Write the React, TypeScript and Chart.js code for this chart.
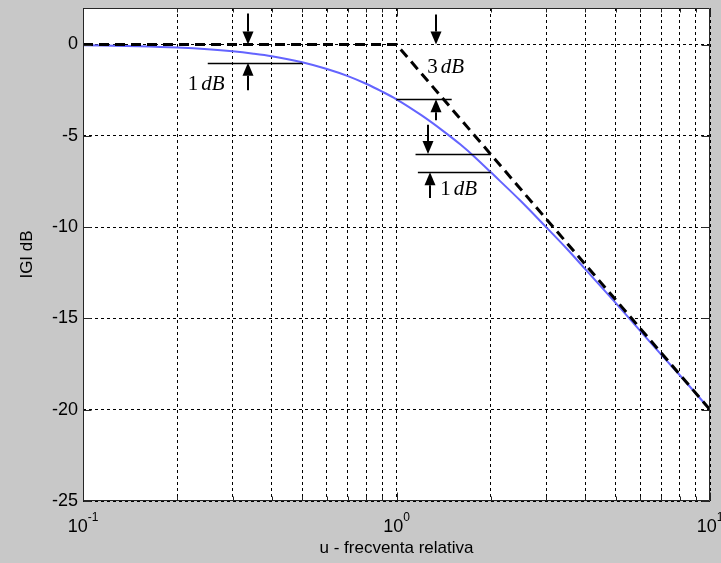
import React, { useEffect, useRef } from "react";
import { Chart, registerables } from "chart.js";

Chart.register(...registerables);

// Magnitude response |G| of a first-order lag versus relative frequency u
const freq = [0.1, 0.15, 0.2, 0.25, 0.3, 0.35, 0.4, 0.5, 0.6, 0.7, 0.8, 0.9, 1.0, 1.2, 1.4, 1.6, 1.8, 2.0, 2.5, 3.0, 3.5, 4.0, 5.0, 6.0, 7.0, 8.0, 9.0, 10.0];
const gainDb = [-0.04, -0.1, -0.17, -0.26, -0.37, -0.5, -0.64, -0.97, -1.34, -1.73, -2.15, -2.58, -3.0, -3.87, -4.7, -5.48, -6.25, -7.0, -8.6, -10.0, -11.2, -12.3, -14.15, -15.7, -17.0, -18.1, -19.1, -20.0];

// Straight-line (asymptotic) approximation
const asymFreq = [0.1, 1, 10];
const asymDb = [0, 0, -20];

// Axes
const decades = [0.1, 1];
const xExponents = [-1, 0, 1];
const yTicks = [0, -5, -10, -15, -20, -25];
const yMin = -25;
const yMax = 2;

// Dimension arrows: frequency, tail level, tip level (dB)
const arrowFreq = [0.335, 0.335, 1.336, 1.34, 1.26, 1.28];
const arrowFromDb = [1.7, -2.5, 1.65, -4.15, -4.4, -8.4];
const arrowToDb = [0, -1, 0, -3, -6, -7];

// Reference levels for the arrows
const levelFrom = [0.25, 1.0, 1.15, 1.17];
const levelTo = [0.5, 1.5, 2.0, 2.0];
const levelDb = [-1, -3, -6, -7];

// Notes "n dB"
const noteValue = ["1", "3", "1"];
const noteFreq = [0.216, 1.253, 1.379];
const noteDb = [-2.5, -1.58, -8.25];

const SANS = '"Liberation Sans", Arial, Helvetica, sans-serif';
const SERIF = '"Liberation Serif", "Times New Roman", serif';

const decorations = {
  id: "decorations",
  beforeDraw(chart: any) {
    const { ctx, chartArea: a } = chart;
    ctx.save();
    ctx.fillStyle = "#c8c8c8";
    ctx.fillRect(0, 0, chart.width, chart.height);
    ctx.fillStyle = "#ffffff";
    ctx.fillRect(a.left, a.top, a.right - a.left, a.bottom - a.top);
    ctx.restore();
  },
  afterDraw(chart: any) {
    const { ctx, chartArea: a } = chart;
    const xs = chart.scales.x;
    const ys = chart.scales.y;
    const L = Math.round(a.left) + 0.5;
    const R = Math.round(a.right) - 0.5;
    const T = Math.round(a.top) + 0.5;
    const B = Math.round(a.bottom) - 0.5;

    ctx.save();
    ctx.strokeStyle = "#262626";
    ctx.lineWidth = 1;
    ctx.setLineDash([]);

    // frame
    ctx.beginPath();
    ctx.moveTo(L, T); ctx.lineTo(R, T); ctx.lineTo(R, B); ctx.lineTo(L, B); ctx.closePath();
    ctx.stroke();

    // x ticks (inside, top and bottom)
    ctx.beginPath();
    const xVals: number[] = [];
    decades.forEach((d) => { for (let k = 1; k <= 9; k++) xVals.push(k * d); });
    xVals.push(10);
    xVals.forEach((v) => {
      const px = Math.round(xs.getPixelForValue(v)) + 0.5;
      const major = Math.abs(Math.log10(v) - Math.round(Math.log10(v))) < 1e-9;
      const len = major ? 8 : 4;
      ctx.moveTo(px, B); ctx.lineTo(px, B - len);
      ctx.moveTo(px, T); ctx.lineTo(px, T + len);
    });
    // y ticks (inside, left and right)
    yTicks.forEach((v) => {
      const py = Math.round(ys.getPixelForValue(v)) + 0.5;
      ctx.moveTo(L, py); ctx.lineTo(L + 8, py);
      ctx.moveTo(R, py); ctx.lineTo(R - 8, py);
    });
    ctx.stroke();

    // y tick labels
    ctx.fillStyle = "#000";
    ctx.font = `18px ${SANS}`;
    ctx.textAlign = "right";
    ctx.textBaseline = "middle";
    yTicks.forEach((v) => {
      ctx.fillText(String(v), a.left - 5, ys.getPixelForValue(v));
    });

    // x tick labels 10^n
    ctx.textAlign = "left";
    ctx.textBaseline = "alphabetic";
    xExponents.forEach((e) => {
      const px = xs.getPixelForValue(Math.pow(10, e));
      ctx.font = `18px ${SANS}`;
      const wb = ctx.measureText("10").width;
      ctx.font = `12px ${SANS}`;
      const sup = String(e);
      const ws = ctx.measureText(sup).width;
      const start = px - (wb + ws) / 2;
      ctx.font = `18px ${SANS}`;
      ctx.fillText("10", start, a.bottom + 31);
      ctx.font = `12px ${SANS}`;
      ctx.fillText(sup, start + wb, a.bottom + 20);
    });

    // axis titles
    ctx.font = `17px ${SANS}`;
    ctx.textAlign = "center";
    ctx.textBaseline = "middle";
    ctx.fillText("u - frecventa relativa", (a.left + a.right) / 2, a.bottom + 47);
    ctx.save();
    ctx.translate(27, (a.top + a.bottom) / 2);
    ctx.rotate(-Math.PI / 2);
    ctx.fillText("IGI dB", 0, 0);
    ctx.restore();

    // reference levels
    ctx.strokeStyle = "#000";
    ctx.lineWidth = 1.3;
    ctx.beginPath();
    levelDb.forEach((db, i) => {
      const py = Math.round(ys.getPixelForValue(db)) + 0.5;
      ctx.moveTo(xs.getPixelForValue(levelFrom[i]), py);
      ctx.lineTo(xs.getPixelForValue(levelTo[i]), py);
    });
    ctx.stroke();

    // dimension arrows
    const headLen = 13;
    const headHalf = 5.5;
    ctx.fillStyle = "#000";
    ctx.lineWidth = 2;
    arrowFreq.forEach((f, i) => {
      const px = Math.round(xs.getPixelForValue(f));
      const y0 = ys.getPixelForValue(arrowFromDb[i]);
      const y1 = ys.getPixelForValue(arrowToDb[i]);
      const dir = y1 > y0 ? 1 : -1;
      ctx.beginPath();
      ctx.moveTo(px, y0);
      ctx.lineTo(px, y1 - dir * headLen);
      ctx.stroke();
      ctx.beginPath();
      ctx.moveTo(px, y1);
      ctx.lineTo(px - headHalf, y1 - dir * headLen);
      ctx.lineTo(px + headHalf, y1 - dir * headLen);
      ctx.closePath();
      ctx.fill();
    });

    // notes
    ctx.textAlign = "left";
    ctx.textBaseline = "alphabetic";
    noteValue.forEach((n, i) => {
      const px = xs.getPixelForValue(noteFreq[i]);
      const py = ys.getPixelForValue(noteDb[i]);
      ctx.font = `21px ${SERIF}`;
      ctx.fillText(n, px, py);
      const w = ctx.measureText(n).width;
      ctx.font = `italic 21px ${SERIF}`;
      ctx.fillText("dB", px + w + 3, py);
    });

    ctx.restore();
  },
};

export default function App() {
  const ref = useRef<HTMLCanvasElement | null>(null);

  useEffect(() => {
    document.body.style.margin = "0";
    document.body.style.background = "#c8c8c8";
    const canvas = ref.current;
    if (!canvas) return;

    const gridStyle = { color: "#000000", lineWidth: 1, drawTicks: false };
    const borderStyle = { display: false, dash: [3, 3] };

    const chart = new Chart(canvas, {
      type: "line",
      data: {
        datasets: [
          {
            data: asymFreq.map((x, i) => ({ x, y: asymDb[i] })),
            borderColor: "#000000",
            borderWidth: 3,
            borderDash: [10, 6],
            pointRadius: 0,
            fill: false,
            order: 0,
          },
          {
            data: freq.map((x, i) => ({ x, y: gainDb[i] })),
            borderColor: "#6464ff",
            borderWidth: 2,
            pointRadius: 0,
            fill: false,
            cubicInterpolationMode: "monotone",
            order: 1,
          },
        ],
      },
      options: {
        animation: false,
        responsive: false,
        devicePixelRatio: 1,
        layout: { padding: { left: 83, right: 11, top: 8, bottom: 62 } },
        plugins: { legend: { display: false }, tooltip: { enabled: false } },
        scales: {
          x: {
            type: "logarithmic",
            min: 0.1,
            max: 10,
            afterBuildTicks: (scale: any) => {
              const t: { value: number }[] = [];
              decades.forEach((d) => { for (let k = 1; k <= 9; k++) t.push({ value: k * d }); });
              t.push({ value: 10 });
              scale.ticks = t;
            },
            ticks: { display: false },
            grid: gridStyle,
            border: borderStyle,
          },
          y: {
            type: "linear",
            min: yMin,
            max: yMax,
            afterBuildTicks: (scale: any) => {
              scale.ticks = yTicks.map((value) => ({ value }));
            },
            ticks: { display: false },
            grid: gridStyle,
            border: borderStyle,
          },
        },
      } as any,
      plugins: [decorations],
    });

    return () => chart.destroy();
  }, []);

  return <canvas ref={ref} width={721} height={563} style={{ display: "block" }} />;
}
